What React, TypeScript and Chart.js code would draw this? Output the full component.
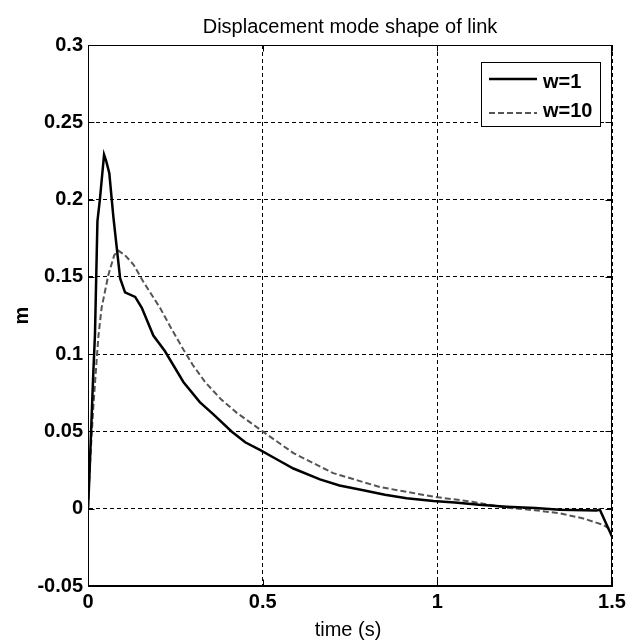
import React, { useEffect, useRef } from "react";
import { Chart, registerables } from "chart.js";

Chart.register(...registerables);

const TITLE = "Displacement mode shape of link";
const X_LABEL = "time (s)";
const Y_LABEL = "m";
const SERIES_NAMES = ["w=1", "w=10"];
const X_TICKS = [0, 0.5, 1, 1.5];
const Y_TICKS = [-0.05, 0, 0.05, 0.1, 0.15, 0.2, 0.25, 0.3];

const timeW1 = [
  0, 0.003, 0.006, 0.015, 0.02, 0.027, 0.034, 0.046, 0.052, 0.061, 0.073, 0.092, 0.106,
  0.135, 0.154, 0.187, 0.22, 0.273, 0.32, 0.359, 0.411, 0.45, 0.492, 0.54, 0.588, 0.664,
  0.72, 0.788, 0.85, 0.912, 0.989, 1.05, 1.12, 1.198, 1.28, 1.351, 1.42, 1.456, 1.465, 1.5,
];
const valW1 = [
  0, 0.015, 0.033, 0.087, 0.113, 0.186, 0.2, 0.229, 0.225, 0.217, 0.188, 0.149, 0.14,
  0.137, 0.13, 0.112, 0.102, 0.082, 0.069, 0.061, 0.05, 0.043, 0.038, 0.032, 0.026, 0.019,
  0.015, 0.012, 0.009, 0.0067, 0.005, 0.004, 0.0025, 0.0013, 0.0004, -0.0006, -0.001, -0.0012, -0.0005, -0.018,
];

const timeW10 = [
  0, 0.006, 0.015, 0.025, 0.03, 0.039, 0.058, 0.075, 0.087, 0.106, 0.13, 0.158, 0.206,
  0.24, 0.273, 0.3, 0.335, 0.38, 0.426, 0.5, 0.588, 0.702, 0.836, 0.989, 1.1, 1.198, 1.28, 1.351,
  1.418, 1.475, 1.5,
];
const valW10 = [
  0, 0.03, 0.065, 0.097, 0.112, 0.13, 0.151, 0.164, 0.167, 0.164, 0.158, 0.147, 0.13,
  0.116, 0.103, 0.093, 0.082, 0.071, 0.062, 0.05, 0.036, 0.023, 0.014, 0.0078, 0.0045, 0.0006, -0.001,
  -0.003, -0.0063, -0.0105, -0.014,
];

const FONT = '"Liberation Sans", Arial, sans-serif';

const fmt = (v: number) => String(Number(v.toFixed(2)));

const decorPlugin = {
  id: "decor",
  afterDraw(chart: any) {
    const { ctx, chartArea } = chart;
    const { left, right, top, bottom } = chartArea;
    const xs = chart.scales.x;
    const ys = chart.scales.y;
    ctx.save();
    ctx.setLineDash([]);
    ctx.strokeStyle = "#000";
    ctx.lineWidth = 1;
    const line = (x1: number, y1: number, x2: number, y2: number) => {
      ctx.beginPath();
      ctx.moveTo(x1, y1);
      ctx.lineTo(x2, y2);
      ctx.stroke();
    };
    const L = Math.round(left) + 0.5;
    const R = Math.round(right) - 0.5;
    const T = Math.round(top) + 0.5;
    const B = Math.round(bottom) - 0.5;
    // inner tick marks
    X_TICKS.forEach((v) => {
      const px = Math.round(xs.getPixelForValue(v)) + 0.5;
      line(px, B, px, B - 6);
      line(px, T, px, T + 6);
    });
    Y_TICKS.forEach((v) => {
      const py = Math.round(ys.getPixelForValue(v)) + 0.5;
      line(L, py, L + 6, py);
      line(R, py, R - 6, py);
    });
    // frame
    ctx.strokeRect(L, T, R - L, B - T);

    // title & axis labels
    ctx.fillStyle = "#000";
    ctx.textAlign = "center";
    ctx.textBaseline = "alphabetic";
    ctx.font = `20px ${FONT}`;
    ctx.fillText(TITLE, (left + right) / 2, 33);
    ctx.fillText(X_LABEL, (left + right) / 2 - 2, 636);
    ctx.save();
    ctx.translate(28, (top + bottom) / 2);
    ctx.rotate(-Math.PI / 2);
    ctx.font = `bold 20px ${FONT}`;
    ctx.fillText(Y_LABEL, 0, 0);
    ctx.restore();

    // legend
    const bx = 481.5, by = 62.5, bw = 119, bh = 64;
    ctx.fillStyle = "#fff";
    ctx.fillRect(bx, by, bw, bh);
    ctx.strokeStyle = "#000";
    ctx.lineWidth = 1;
    ctx.strokeRect(bx, by, bw, bh);
    const ds = chart.data.datasets;
    const rows = [
      { ly: 79, ty: 88 },
      { ly: 113, ty: 117 },
    ];
    ds.forEach((d: any, i: number) => {
      const r = rows[i];
      ctx.save();
      ctx.strokeStyle = d.borderColor;
      ctx.lineWidth = d.borderWidth;
      ctx.setLineDash(d.borderDash || []);
      line(489, r.ly, 537, r.ly);
      ctx.restore();
      ctx.fillStyle = "#000";
      ctx.textAlign = "left";
      ctx.font = `bold 20px ${FONT}`;
      ctx.fillText(d.label, 543, r.ty);
    });
    ctx.restore();
  },
};

export default function App() {
  const ref = useRef<HTMLCanvasElement | null>(null);
  useEffect(() => {
    document.body.style.margin = "0";
    const canvas = ref.current;
    if (!canvas) return;
    const chart = new Chart(canvas, {
      type: "scatter",
      data: {
        datasets: [
          {
            label: SERIES_NAMES[0],
            data: timeW1.map((t, i) => ({ x: t, y: valW1[i] })),
            showLine: true,
            borderColor: "#000",
            borderWidth: 2.5,
            pointRadius: 0,
            tension: 0,
          },
          {
            label: SERIES_NAMES[1],
            data: timeW10.map((t, i) => ({ x: t, y: valW10[i] })),
            showLine: true,
            borderColor: "#555",
            borderWidth: 2,
            borderDash: [6, 3],
            pointRadius: 0,
            tension: 0,
          },
        ],
      },
      options: {
        responsive: false,
        animation: false,
        devicePixelRatio: 1,
        layout: { padding: { top: 45, right: 23, left: 0, bottom: 0 } },
        plugins: {
          legend: { display: false },
          title: { display: false },
          tooltip: { enabled: false },
        },
        scales: {
          x: {
            type: "linear",
            min: 0,
            max: 1.5,
            afterBuildTicks: (s: any) => {
              s.ticks = X_TICKS.map((v) => ({ value: v }));
            },
            afterFit: (s: any) => {
              s.height = 58;
            },
            ticks: {
              color: "#000",
              padding: 4,
              font: { family: FONT, size: 20, weight: "bold" },
              callback: (v: any) => fmt(Number(v)),
              maxRotation: 0,
            },
            grid: { color: "#000", lineWidth: 1, drawTicks: false },
            border: { display: true, color: "#000", dash: [4, 3] },
          },
          y: {
            type: "linear",
            min: -0.05,
            max: 0.3,
            afterBuildTicks: (s: any) => {
              s.ticks = Y_TICKS.map((v) => ({ value: v }));
            },
            afterFit: (s: any) => {
              s.width = 88;
            },
            ticks: {
              color: "#000",
              padding: 5,
              font: { family: FONT, size: 20, weight: "bold" },
              callback: (v: any) => fmt(Number(v)),
            },
            grid: { color: "#000", lineWidth: 1, drawTicks: false },
            border: { display: true, color: "#000", dash: [4, 3] },
          },
        },
      },
      plugins: [decorPlugin],
    } as any);
    return () => chart.destroy();
  }, []);
  return <canvas ref={ref} width={635} height={644} style={{ display: "block" }} />;
}
